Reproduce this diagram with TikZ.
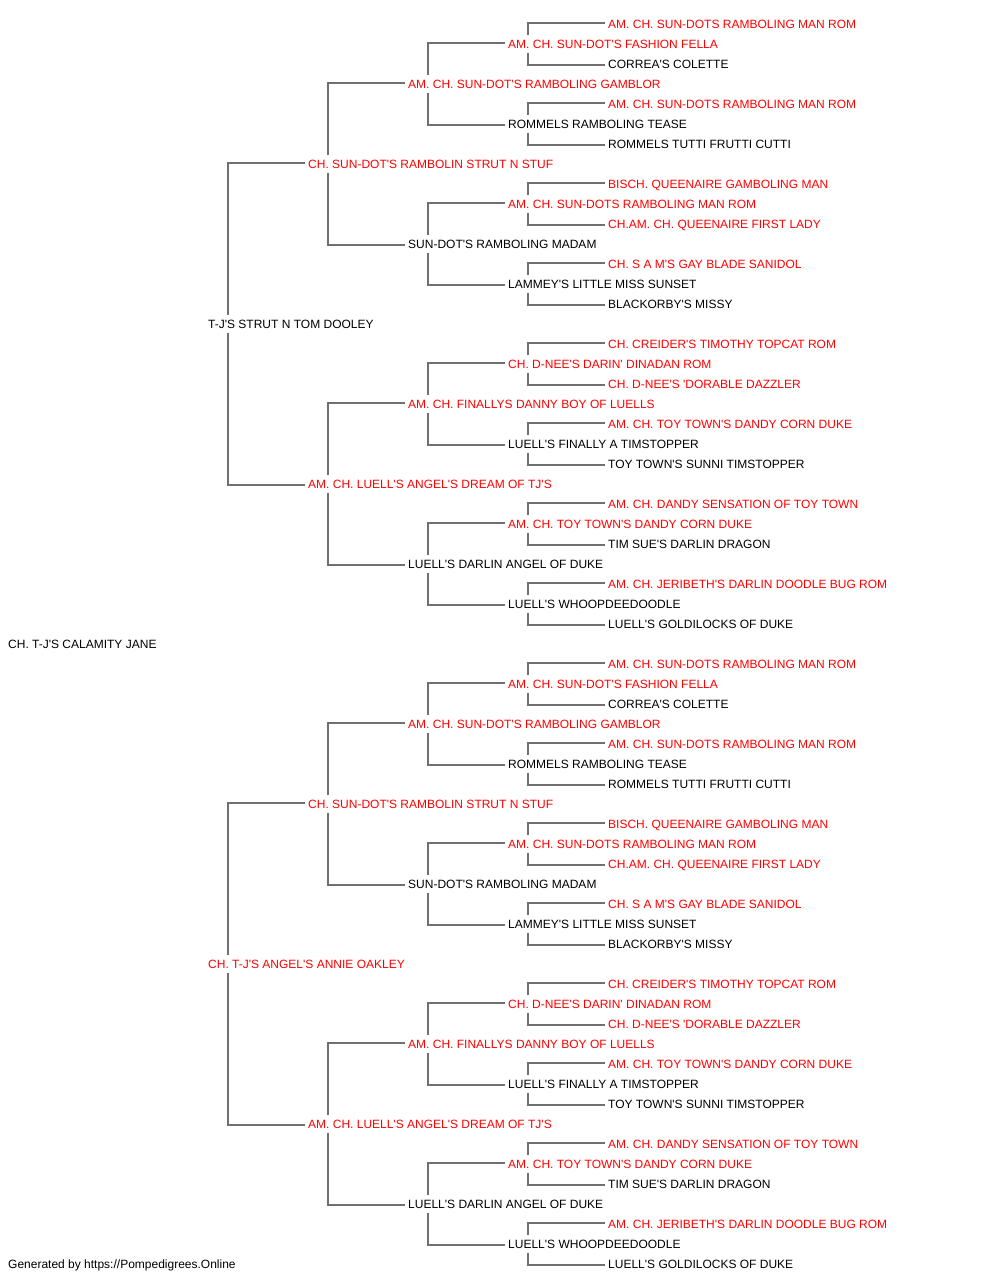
\documentclass[tikz,border=0pt]{standalone}
\usepackage{fontspec}
\setmainfont{Liberation Sans}[Ligatures=TeXOff]
\usetikzlibrary{positioning, calc}
\definecolor{linie}{HTML}{707070}
\definecolor{titelrot}{HTML}{FF0000}
\tikzset{hund/.style={anchor=west, inner xsep=3pt, inner ysep=3.7pt,
		text height=9.6pt, text depth=1pt, font=\fontsize{12pt}{14pt}\selectfont},
	champion/.style={text=titelrot},
	vater/.style={edge from parent path={([xshift=23pt]\tikzparentnode.north west) |- ([yshift=1pt]\tikzchildnode.west)}},
	mutter/.style={edge from parent path={([xshift=23pt]\tikzparentnode.south west) |- ([yshift=-1pt]\tikzchildnode.west)}} }

\begin{document}
\begin{tikzpicture}
	[x=1pt, y=-1pt, grow'=right, growth parent anchor=west,
	 level/.style={sibling distance=640pt/(2^(#1-1)), level distance=100pt},
	 level 1/.style={level distance=200pt},
	 edge from parent/.style={draw=linie, line width=1.7pt}]

  \useasboundingbox (0,0) rectangle (1000,1280);

  \node (h) [hund] at (5,643.7) {CH. T-J'S CALAMITY JANE}
  	child { node (v) [hund] {T-J'S STRUT N TOM DOOLEY}
  		child[vater] { node (vv) [hund, champion] {CH. SUN-DOT'S RAMBOLIN STRUT N STUF}
  			child[vater] { node (vvv) [hund, champion] {AM. CH. SUN-DOT'S RAMBOLING GAMBLOR}
  				child[vater] { node (vvvv) [hund, champion] {AM. CH. SUN-DOT'S FASHION FELLA}
  					child[vater] { node (vvvvv) [hund, champion] {AM. CH. SUN-DOTS RAMBOLING MAN ROM} }
  					child[mutter] { node (vvvvm) [hund] {CORREA'S COLETTE} }
  				}
  				child[mutter] { node (vvvm) [hund] {ROMMELS RAMBOLING TEASE}
  					child[vater] { node (vvvmv) [hund, champion] {AM. CH. SUN-DOTS RAMBOLING MAN ROM} }
  					child[mutter] { node (vvvmm) [hund] {ROMMELS TUTTI FRUTTI CUTTI} }
  				}
  			}
  			child[mutter] { node (vvm) [hund] {SUN-DOT'S RAMBOLING MADAM}
  				child[vater] { node (vvmv) [hund, champion] {AM. CH. SUN-DOTS RAMBOLING MAN ROM}
  					child[vater] { node (vvmvv) [hund, champion] {BISCH. QUEENAIRE GAMBOLING MAN} }
  					child[mutter] { node (vvmvm) [hund, champion] {CH.AM. CH. QUEENAIRE FIRST LADY} }
  				}
  				child[mutter] { node (vvmm) [hund] {LAMMEY'S LITTLE MISS SUNSET}
  					child[vater] { node (vvmmv) [hund, champion] {CH. S A M'S GAY BLADE SANIDOL} }
  					child[mutter] { node (vvmmm) [hund] {BLACKORBY'S MISSY} }
  				}
  			}
  		}
  		child[mutter] { node (vm) [hund, champion] {AM. CH. LUELL'S ANGEL'S DREAM OF TJ'S}
  			child[vater] { node (vmv) [hund, champion] {AM. CH. FINALLYS DANNY BOY OF LUELLS}
  				child[vater] { node (vmvv) [hund, champion] {CH. D-NEE'S DARIN' DINADAN ROM}
  					child[vater] { node (vmvvv) [hund, champion] {CH. CREIDER'S TIMOTHY TOPCAT ROM} }
  					child[mutter] { node (vmvvm) [hund, champion] {CH. D-NEE'S 'DORABLE DAZZLER} }
  				}
  				child[mutter] { node (vmvm) [hund] {LUELL'S FINALLY A TIMSTOPPER}
  					child[vater] { node (vmvmv) [hund, champion] {AM. CH. TOY TOWN'S DANDY CORN DUKE} }
  					child[mutter] { node (vmvmm) [hund] {TOY TOWN'S SUNNI TIMSTOPPER} }
  				}
  			}
  			child[mutter] { node (vmm) [hund] {LUELL'S DARLIN ANGEL OF DUKE}
  				child[vater] { node (vmmv) [hund, champion] {AM. CH. TOY TOWN'S DANDY CORN DUKE}
  					child[vater] { node (vmmvv) [hund, champion] {AM. CH. DANDY SENSATION OF TOY TOWN} }
  					child[mutter] { node (vmmvm) [hund] {TIM SUE'S DARLIN DRAGON} }
  				}
  				child[mutter] { node (vmmm) [hund] {LUELL'S WHOOPDEEDOODLE}
  					child[vater] { node (vmmmv) [hund, champion] {AM. CH. JERIBETH'S DARLIN DOODLE BUG ROM} }
  					child[mutter] { node (vmmmm) [hund] {LUELL'S GOLDILOCKS OF DUKE} }
  				}
  			}
  		}
  		edge from parent[draw=none]
  	}
  	child { node (m) [hund, champion] {CH. T-J'S ANGEL'S ANNIE OAKLEY}
  		child[vater] { node (mv) [hund, champion] {CH. SUN-DOT'S RAMBOLIN STRUT N STUF}
  			child[vater] { node (mvv) [hund, champion] {AM. CH. SUN-DOT'S RAMBOLING GAMBLOR}
  				child[vater] { node (mvvv) [hund, champion] {AM. CH. SUN-DOT'S FASHION FELLA}
  					child[vater] { node (mvvvv) [hund, champion] {AM. CH. SUN-DOTS RAMBOLING MAN ROM} }
  					child[mutter] { node (mvvvm) [hund] {CORREA'S COLETTE} }
  				}
  				child[mutter] { node (mvvm) [hund] {ROMMELS RAMBOLING TEASE}
  					child[vater] { node (mvvmv) [hund, champion] {AM. CH. SUN-DOTS RAMBOLING MAN ROM} }
  					child[mutter] { node (mvvmm) [hund] {ROMMELS TUTTI FRUTTI CUTTI} }
  				}
  			}
  			child[mutter] { node (mvm) [hund] {SUN-DOT'S RAMBOLING MADAM}
  				child[vater] { node (mvmv) [hund, champion] {AM. CH. SUN-DOTS RAMBOLING MAN ROM}
  					child[vater] { node (mvmvv) [hund, champion] {BISCH. QUEENAIRE GAMBOLING MAN} }
  					child[mutter] { node (mvmvm) [hund, champion] {CH.AM. CH. QUEENAIRE FIRST LADY} }
  				}
  				child[mutter] { node (mvmm) [hund] {LAMMEY'S LITTLE MISS SUNSET}
  					child[vater] { node (mvmmv) [hund, champion] {CH. S A M'S GAY BLADE SANIDOL} }
  					child[mutter] { node (mvmmm) [hund] {BLACKORBY'S MISSY} }
  				}
  			}
  		}
  		child[mutter] { node (mm) [hund, champion] {AM. CH. LUELL'S ANGEL'S DREAM OF TJ'S}
  			child[vater] { node (mmv) [hund, champion] {AM. CH. FINALLYS DANNY BOY OF LUELLS}
  				child[vater] { node (mmvv) [hund, champion] {CH. D-NEE'S DARIN' DINADAN ROM}
  					child[vater] { node (mmvvv) [hund, champion] {CH. CREIDER'S TIMOTHY TOPCAT ROM} }
  					child[mutter] { node (mmvvm) [hund, champion] {CH. D-NEE'S 'DORABLE DAZZLER} }
  				}
  				child[mutter] { node (mmvm) [hund] {LUELL'S FINALLY A TIMSTOPPER}
  					child[vater] { node (mmvmv) [hund, champion] {AM. CH. TOY TOWN'S DANDY CORN DUKE} }
  					child[mutter] { node (mmvmm) [hund] {TOY TOWN'S SUNNI TIMSTOPPER} }
  				}
  			}
  			child[mutter] { node (mmm) [hund] {LUELL'S DARLIN ANGEL OF DUKE}
  				child[vater] { node (mmmv) [hund, champion] {AM. CH. TOY TOWN'S DANDY CORN DUKE}
  					child[vater] { node (mmmvv) [hund, champion] {AM. CH. DANDY SENSATION OF TOY TOWN} }
  					child[mutter] { node (mmmvm) [hund] {TIM SUE'S DARLIN DRAGON} }
  				}
  				child[mutter] { node (mmmm) [hund] {LUELL'S WHOOPDEEDOODLE}
  					child[vater] { node (mmmmv) [hund, champion] {AM. CH. JERIBETH'S DARLIN DOODLE BUG ROM} }
  					child[mutter] { node (mmmmm) [hund] {LUELL'S GOLDILOCKS OF DUKE} }
  				}
  			}
  		}
  		edge from parent[draw=none]
  	};

  % footer line
  \node (quelle) [hund] at (5,1263.7) {Generated by https://Pompedigrees.Online};
\end{tikzpicture}
\end{document}
